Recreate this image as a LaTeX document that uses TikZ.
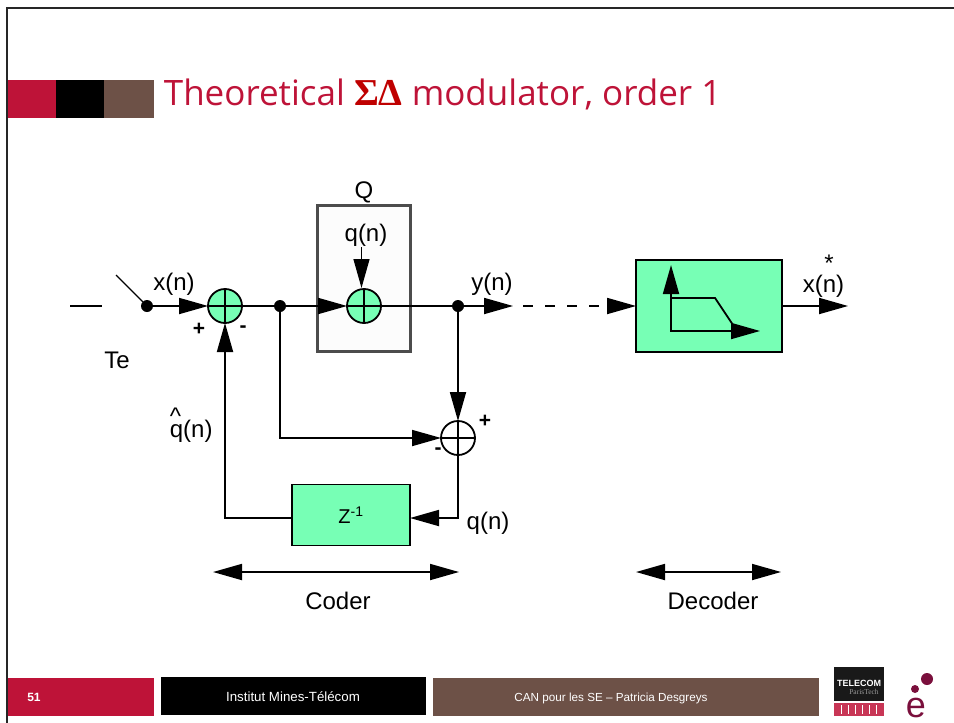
\documentclass[tikz,border=0pt]{standalone}
\usepackage{fontspec}
\setmainfont{Liberation Sans}
\newfontfamily\titlefont{Open Sans}
\newfontfamily\greekfont{Liberation Serif}
\usetikzlibrary{%
	calc,%
	arrows.meta%
}
\definecolor{slidered}{HTML}{BE1338}
\definecolor{slidebrown}{HTML}{6D5147}
\definecolor{blockgreen}{HTML}{77FFB5}
\definecolor{logomaroon}{HTML}{7A0F3C}
\tikzset{
	lab/.style={inner sep=0pt,font=\fontsize{24}{28}\selectfont},
	sign/.style={inner sep=0pt,font=\bfseries\fontsize{21}{25}\selectfont},
	sumnode/.style={circle,draw,line width=1.8pt,minimum size=34pt,inner sep=0pt,outer sep=0pt},
	blocknode/.style={draw,line width=1.6pt,fill=blockgreen,inner sep=0pt,outer sep=0pt},
	junction/.style={circle,fill=black,minimum size=12pt,inner sep=0pt,outer sep=0pt},
	bar/.style={inner sep=0pt,outer sep=0pt,anchor=north west},
	foot/.style={anchor=base,inner sep=0pt,text=white}
}
\begin{document}
\begin{tikzpicture}[x=1pt,y=-1pt,line width=1.8pt,>={Triangle[length=29pt,width=16pt]}]
				\useasboundingbox (0,0) rectangle (954,723);
				
				% Frame
				\coordinate (ftop) at (954,8);
				\coordinate (fcorner) at (7,8);
				\coordinate (fbottom) at (7,723);
				\draw[line width=2.4pt,black!85] (ftop) -- (fcorner) -- (fbottom);
				
				% Title
				\node[bar,fill=slidered,minimum width=48pt,minimum height=38pt] (tred) at (8,80) {};
				\node[bar,fill=black,minimum width=48pt,minimum height=38pt] (tblack) at (56,80) {};
				\node[bar,fill=slidebrown,minimum width=50pt,minimum height=38pt] (tbrown) at (104,80) {};
				\node[anchor=base west,inner sep=0pt,text=slidered,font=\titlefont\fontsize{35}{40}\selectfont] (title) at (163,105)
					{Theoretical {\greekfont\bfseries\fontsize{38}{40}\selectfont\color{red!75!black}ΣΔ} modulator, order 1};
				
				% Quantizer box
				\node[bar,draw=black!70,line width=3pt,fill=black!1,minimum width=93pt,minimum height=146pt] (qbox) at (317,205) {};
				
				% Blocks
				\node[blocknode,minimum width=146pt,minimum height=92pt] (lpf) at (709,306) {};
				\node[blocknode,minimum width=118pt,minimum height=61pt,font=\fontsize{20}{24}\selectfont] (zblock) at (351,515) {Z\textsuperscript{-1}};
				
				% Adders
				\node[sumnode,fill=blockgreen] (sum1) at (225,306) {};
				\node[sumnode,fill=blockgreen] (sum2) at (364,306) {};
				\node[sumnode] (sum3) at (458,438) {};
				\foreach \adder in {sum1,sum2,sum3}
				{
					\draw (\adder.north) -- (\adder.south);
					\draw (\adder.west) -- (\adder.east);
				}
				
				% Junctions
				\foreach \name/\x in {dswitch/147,dsplit/280,dout/458}
				\node[junction] (\name) at (\x,306) {};
				
				% Free ends
				\coordinate (inl) at (70,306);
				\coordinate (inr) at (102,306);
				\coordinate (swtop) at (116,275);
				\coordinate (qtop) at (361.5,247);
				\coordinate (qtip) at (361.5,288);
				\coordinate (ytip) at (513,306);
				\coordinate (dashstart) at (523,306);
				\coordinate (outtip) at (848,306);
				\coordinate (rightc) at (458,518);
				\coordinate (zin) at (410,518);
				\coordinate (zout) at (292,518);
				\coordinate (leftc) at (225,518);
				
				% Forward path
				\draw (inl) -- (inr);
				\draw[line width=1.3pt] (swtop) -- (dswitch);
				\draw[->] (dswitch) -- (sum1);
				\draw (sum1) -- (dsplit);
				\draw[->] (dsplit) -- (sum2);
				\draw[->,line width=1.3pt] (qtop) -- (qtip);
				\draw (sum2) -- (dout);
				\draw[->] (dout) -- (ytip);
				\draw[->,dash pattern=on 10pt off 12pt] (dashstart) -- (lpf.west);
				\draw[->] (lpf.east) -- (outtip);
				
				% Error path
				\draw[->] (dout) -- (sum3);
				\draw[->] (dsplit) |- (sum3);
				\draw[->] (sum3) -- (rightc) -- (zin);
				\draw[->] (zout) -- (leftc) -- (sum1);
				
				% Filter symbol
				\coordinate (forigin) at (671,331);
				\coordinate (fytip) at (671,265);
				\coordinate (fxtip) at (760,331);
				\coordinate (fpass) at (671,298);
				\coordinate (fknee) at (715,298);
				\coordinate (fstop) at (733,325);
				\draw[<->] (fytip) -- (forigin) -- (fxtip);
				\draw (fpass) -- (fknee) -- (fstop);
				
				% Range arrows
				\coordinate (cleft) at (213,572);
				\coordinate (cright) at (459,572);
				\coordinate (dleft) at (636,572);
				\coordinate (dright) at (781,572);
				\draw[<->] (cleft) -- (cright);
				\draw[<->] (dleft) -- (dright);
				
				% Labels
				\node[lab] (lxn) at (174,284) {x(n)};
				\node[sign] (lplusa) at (199,329) {+};
				\node[sign] (lminusa) at (243,329) {-};
				\node[lab] (lte) at (117,360) {Te};
				\node[lab] (lq) at (364,192) {Q};
				\node[lab] (lqn) at (366,235) {q(n)};
				\node[lab] (lyn) at (492,284) {y(n)};
				\node[lab,anchor=base west] (lxs) at (802,292) {\rlap{\hspace{21.5pt}\raisebox{21pt}{*}}x(n)};
				\node[lab,anchor=base west] (lqh) at (169,437) {\rlap{\raisebox{13pt}{\^{}}}q(n)};
				\node[sign] (lplusb) at (485,421) {+};
				\node[sign] (lminusb) at (438,451) {-};
				\node[lab] (lqe) at (488,523) {q(n)};
				\node[lab] (lcoder) at (338,601) {Coder};
				\node[lab] (ldecoder) at (713,601) {Decoder};
				
				% Footer
				\node[bar,fill=slidered,minimum width=146pt,minimum height=38pt] (fred) at (8,678) {};
				\node[bar,fill=black,minimum width=265pt,minimum height=38pt] (fblack) at (161,677) {};
				\node[bar,fill=slidebrown,minimum width=386pt,minimum height=38pt] (fbrown) at (433,678) {};
				\node[foot,font=\bfseries\fontsize{12}{14}\selectfont] (fnum) at (34,701) {51};
				\node[foot,font=\fontsize{13.3}{15}\selectfont] (finst) at (293,701) {Institut Mines-Télécom};
				\node[foot,font=\fontsize{11.7}{14}\selectfont] (fcan) at (611,701) {CAN pour les SE – Patricia Desgreys};
				
				% Logos
				\node[bar,fill=black!90,minimum width=50pt,minimum height=34pt] (lblack) at (834,667) {};
				\node[inner sep=0pt,text=white,font=\bfseries\fontsize{9}{10}\selectfont] (ltel) at (859,683) {TELECOM};
				\node[inner sep=0pt,text=black!40,font=\greekfont\fontsize{7.5}{9}\selectfont] (lparis) at (864,692) {ParisTech};
				\node[bar,fill=slidered!85!white,minimum width=50pt,minimum height=13pt] (lstrip) at (834,703) {};
				\foreach \x in {841,848,855,862,869,876}
				\draw[white,line width=1pt] (\x,705) -- (\x,714);
				\node[circle,fill=logomaroon,minimum size=12pt,inner sep=0pt] (dotb) at (927,679) {};
				\node[circle,fill=logomaroon,minimum size=8pt,inner sep=0pt] (dots) at (915,689) {};
				\node[anchor=base,inner sep=0pt,text=logomaroon,font=\fontsize{36}{38}\selectfont] (llogo) at (916,717) {e};
			\end{tikzpicture}
\end{document}
